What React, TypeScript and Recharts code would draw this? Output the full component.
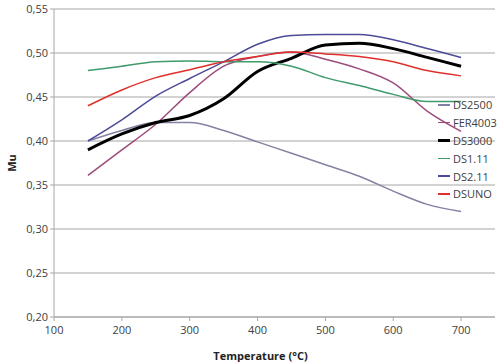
import { LineChart, Line, XAxis, YAxis, CartesianGrid, Legend } from 'recharts'

const temps = [150, 200, 250, 300, 350, 400, 450, 500, 550, 600, 650, 700]

const ds2500 = [0.4, 0.412, 0.421, 0.421, 0.412, 0.399, 0.386, 0.373, 0.36, 0.343, 0.328, 0.32]
const fer4003 = [0.361, 0.39, 0.419, 0.455, 0.485, 0.496, 0.501, 0.493, 0.482, 0.466, 0.434, 0.411]
const ds3000 = [0.39, 0.408, 0.421, 0.429, 0.448, 0.479, 0.494, 0.509, 0.511, 0.505, 0.495, 0.485]
const ds111 = [0.48, 0.485, 0.49, 0.491, 0.49, 0.49, 0.485, 0.472, 0.463, 0.453, 0.445, 0.445]
const ds211 = [0.4, 0.424, 0.451, 0.471, 0.49, 0.51, 0.52, 0.521, 0.521, 0.515, 0.505, 0.495]
const dsuno = [0.44, 0.458, 0.472, 0.481, 0.49, 0.496, 0.501, 0.499, 0.496, 0.49, 0.48, 0.474]

const xTicks = [100, 200, 300, 400, 500, 600, 700]
const yTicks = [0.2, 0.25, 0.3, 0.35, 0.4, 0.45, 0.5, 0.55]

const series = [
  { key: 'DS2500', values: ds2500, color: '#8282a2', width: 1.5 },
  { key: 'FER4003', values: fer4003, color: '#9c4c7c', width: 1.5 },
  { key: 'DS3000', values: ds3000, color: '#000000', width: 3 },
  { key: 'DS1.11', values: ds111, color: '#3f9a6c', width: 1.5 },
  { key: 'DS2.11', values: ds211, color: '#4b4b98', width: 1.5 },
  { key: 'DSUNO', values: dsuno, color: '#e0302c', width: 1.5 },
]

const data = temps.map((t, i) => {
  const row: Record<string, number> = { temp: t }
  series.forEach((s) => {
    row[s.key] = s.values[i]
  })
  return row
})

const font = '"Open Sans", sans-serif'

function LegendBox() {
  return (
    <div style={{ fontFamily: font, fontSize: 11, color: '#404040', textAlign: 'left' }}>
      {series.map((s) => (
        <div key={s.key} style={{ display: 'flex', alignItems: 'center', height: 17.8 }}>
          <span style={{ display: 'inline-block', width: 12, height: s.width, background: s.color, marginRight: 3 }} />
          <span>{s.key}</span>
        </div>
      ))}
    </div>
  )
}

export default function App() {
  return (
    <div style={{ position: 'absolute', left: 0, top: 0, background: '#fff' }}>
      <LineChart width={498} height={362} data={data} margin={{ top: 9, right: 3, left: 0, bottom: 0 }}>
        <CartesianGrid vertical={false} stroke="#a6a6a6" />
        <XAxis
          dataKey="temp"
          type="number"
          domain={[100, 750]}
          ticks={xTicks}
          height={45}
          stroke="#a6a6a6"
          tickSize={4}
          tickMargin={5}
          tick={{ fill: '#404040', fontSize: 11, fontFamily: font }}
          label={{ value: 'Temperature (°C)', position: 'insideBottom', dx: -14, offset: 2, style: { fill: '#222', fontSize: 11, fontWeight: 'bold', fontFamily: font } }}
        />
        <YAxis
          type="number"
          domain={[0.2, 0.55]}
          ticks={yTicks}
          width={54}
          stroke="#a6a6a6"
          tickSize={4}
          tickFormatter={(v: number) => v.toFixed(2).replace('.', ',')}
          tick={{ fill: '#404040', fontSize: 11, fontFamily: font }}
          label={{ value: 'Mu', angle: -90, position: 'insideLeft', offset: 12, style: { fill: '#222', fontSize: 11, fontWeight: 'bold', fontFamily: font, textAnchor: 'middle' } }}
        />
        <Legend
          layout="horizontal"
          verticalAlign="middle"
          align="center"
          content={() => <LegendBox />}
          wrapperStyle={{ position: 'absolute', left: 438, top: 96, width: 60 }}
        />
        {series.map((s) => (
          <Line
            key={s.key}
            type="monotone"
            dataKey={s.key}
            stroke={s.color}
            strokeWidth={s.width}
            dot={false}
            isAnimationActive={false}
          />
        ))}
      </LineChart>
    </div>
  )
}
